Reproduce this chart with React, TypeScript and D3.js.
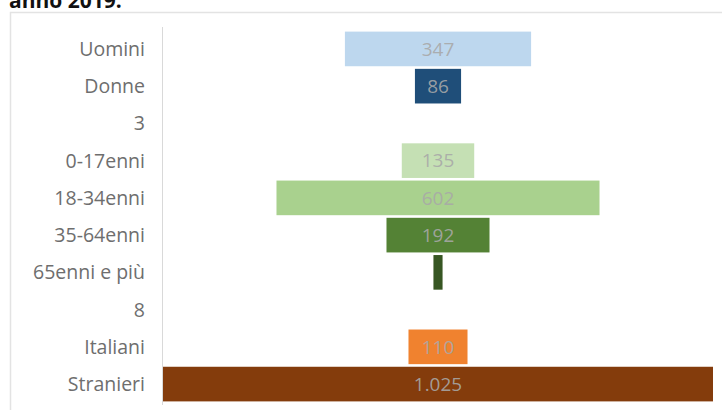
import React from "react";
import * as d3 from "d3";

// Funnel of counts by group (anno 2019)
const categories = [
  "Uomini",
  "Donne",
  "3",
  "0-17enni",
  "18-34enni",
  "35-64enni",
  "65enni e più",
  "8",
  "Italiani",
  "Stranieri",
];
const values: (number | null)[] = [347, 86, null, 135, 602, 192, 17, null, 110, 1025];
const valueLabels: (string | null)[] = ["347", "86", null, "135", "602", "192", null, null, "110", "1.025"];
const colors = [
  "#bdd7ee",
  "#1f4e79",
  "#ffffff",
  "#c5e0b4",
  "#a9d18e",
  "#548235",
  "#375623",
  "#ffffff",
  "#f0822f",
  "#843c0c",
];

const W = 722;
const H = 410;
const FONT = "'Open Sans', 'DejaVu Sans', sans-serif";

export default function App() {
  const maxV = d3.max(values, (d) => d ?? 0) as number;
  const plotLeft = 163;
  const plotRight = 713;
  const x = d3
    .scaleLinear()
    .domain([-maxV / 2, maxV / 2])
    .range([plotLeft, plotRight]);
  const y = d3
    .scaleBand<string>()
    .domain(categories)
    .range([29, 404])
    .paddingInner(0.07)
    .paddingOuter(0.07);

  return (
    <svg
      width={W}
      height={H}
      style={{ position: "absolute", left: 0, top: 0, background: "#fff" }}
    >
      <text
        x={9}
        y={8}
        fontFamily={FONT}
        fontWeight={700}
        fontSize={21}
        fill="#111"
      >
        anno 2019.
      </text>
      <rect
        x={10.5}
        y={12.5}
        width={720}
        height={420}
        fill="none"
        stroke="#e3e3e3"
        strokeWidth={1.5}
      />
      <line
        x1={162.5}
        x2={162.5}
        y1={27}
        y2={405}
        stroke="#d9d9d9"
        strokeWidth={1}
      />
      {categories.map((c, i) => {
        const yc = (y(c) as number) + y.bandwidth() / 2;
        const v = values[i];
        return (
          <g key={c}>
            <text
              x={145}
              y={yc}
              dy="0.36em"
              textAnchor="end"
              fontFamily={FONT}
              fontSize={19.5}
              fill="#6e6e6e"
            >
              {c}
            </text>
            {v != null && (
              <rect
                x={x(-v / 2)}
                y={y(c)}
                width={x(v / 2) - x(-v / 2)}
                height={y.bandwidth()}
                fill={colors[i]}
              />
            )}
            {v != null && valueLabels[i] && (
              <text
                x={x(0)}
                y={yc}
                dy="0.36em"
                textAnchor="middle"
                fontFamily={FONT}
                fontSize={19}
                fill="#a8a8a8"
                fillOpacity={0.9}
              >
                {valueLabels[i]}
              </text>
            )}
          </g>
        );
      })}
    </svg>
  );
}
